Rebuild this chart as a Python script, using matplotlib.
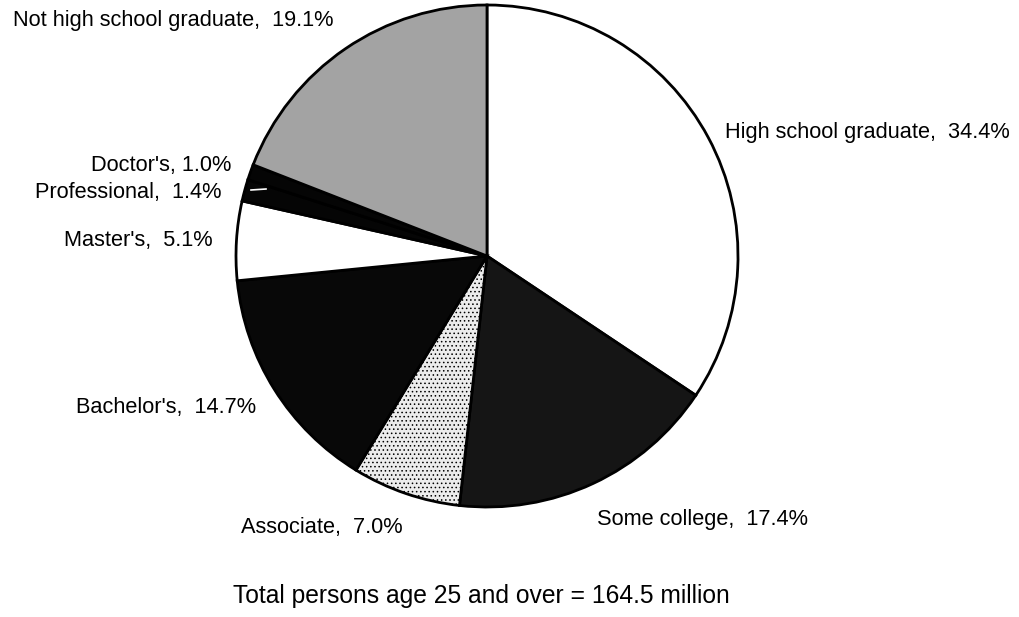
import numpy as np
import matplotlib.pyplot as plt

plt.rcParams['font.family'] = ['Liberation Sans', 'DejaVu Sans']
plt.rcParams['hatch.linewidth'] = 0.6

# data, clockwise from 12 o'clock
categories = ["High school graduate", "Some college", "Associate", "Bachelor's",
              "Master's", "Professional", "Doctor's", "Not high school graduate"]
shares = [34.4, 17.4, 7.0, 14.7, 5.1, 1.4, 1.0, 19.1]
total_note = "Total persons age 25 and over = 164.5 million"

W, H = 1020, 617
fig = plt.figure(figsize=(W / 100, H / 100), dpi=100)
ax = fig.add_axes([0, 0, 1, 1])

faces = ['white', '#151515', '#ececec', '#080808', 'white', '#050505', '#050505', '#a3a3a3']
hatches = [None, None, '....', None, None, None, None, None]

wedges, _ = ax.pie(shares, center=(487, H - 256), radius=251, startangle=90,
                   counterclock=False, colors=faces, normalize=True, frame=True,
                   wedgeprops=dict(edgecolor='black', linewidth=2))
for w, h in zip(wedges, hatches):
    if h:
        w.set_hatch(h)

ax.set_xlim(0, W)
ax.set_ylim(0, H)
ax.set_aspect('equal')
ax.axis('off')

# label anchors in pixel coords (x, y from top, ha)
label_pos = [(725, 132, 'left'), (808, 519, 'right'), (403, 528, 'right'),
             (256, 408, 'right'), (213, 240, 'right'), (222, 192, 'right'),
             (231, 165, 'right'), (334, 20, 'right')]
for name, val, (x, y, ha) in zip(categories, shares, label_pos):
    sep = ", " if name == "Doctor's" else ",  "
    ax.text(x, H - y, f"{name}{sep}{val:.1f}%", fontsize=15.7, ha=ha, va='center')

# little white leader dash inside the professional slice
ax.plot([251, 266], [H - 190, H - 189], color='white', lw=1.2)

ax.text(481, H - 596, total_note, fontsize=17.7, ha='center', va='center')

fig.savefig('out.png', dpi=100)
